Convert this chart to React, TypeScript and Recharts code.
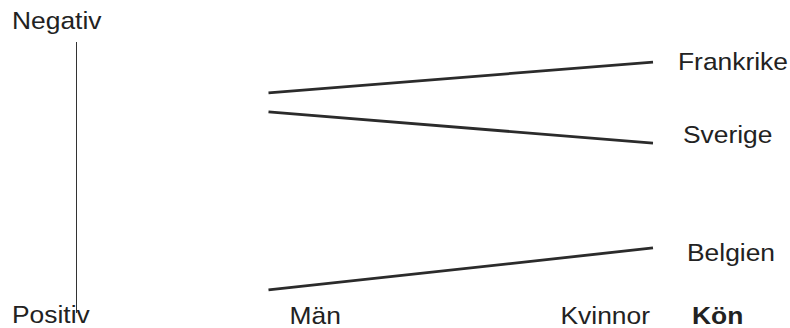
import { Label, Line, LineChart, XAxis, YAxis } from 'recharts'

const categories = ['Män', 'Kvinnor']
const frankrike = [8.12, 9.26]
const sverige = [7.42, 6.27]
const belgien = [0.85, 2.4]
const yTicks = [0, 10]
const yTickLabels = ['Positiv', 'Negativ']
const axisTitle = 'Kön'

const seriesList = [
  { name: 'Frankrike', values: frankrike, labelDx: 25, labelDy: 8 },
  { name: 'Sverige', values: sverige, labelDx: 30, labelDy: 0 },
  { name: 'Belgien', values: belgien, labelDx: 34, labelDy: 13 },
]

const data = categories.map((kon, i) => {
  const row: Record<string, string | number> = { kon }
  seriesList.forEach((s) => {
    row[s.name] = s.values[i]
  })
  return row
})

const FONT = '"Liberation Sans", Arial, sans-serif'
const INK = '#222'
const FONT_SIZE = 24
// the scanned original is a bit wider than plain Arial
const STRETCH = 1.1

function Txt({ x, y, anchor = 'start', bold = false, children }: any) {
  return (
    <text
      transform={`translate(${x},${y}) scale(${STRETCH},1)`}
      textAnchor={anchor}
      fontSize={FONT_SIZE}
      fontWeight={bold ? 'bold' : 'normal'}
      fill={INK}
      fontFamily={FONT}
    >
      {children}
    </text>
  )
}

function YTick(props: any) {
  const { y, payload } = props
  const idx = yTicks.indexOf(payload.value)
  const isTop = payload.value === yTicks[yTicks.length - 1]
  return (
    <Txt x={12} y={isTop ? y - 13 : y + 10}>
      {yTickLabels[idx]}
    </Txt>
  )
}

function XTick(props: any) {
  const { x, y, index, payload } = props
  const first = index === 0
  return (
    <Txt x={first ? x + 21 : x - 3} y={y + 11} anchor={first ? 'start' : 'end'}>
      {payload.value}
    </Txt>
  )
}

function endLabel(name: string, dx: number, dy: number) {
  return (props: any) => {
    const { x, y, index } = props
    if (index !== categories.length - 1) return <g key={`${name}-${index}`} />
    return (
      <g key={`${name}-${index}`}>
        <Txt x={x + dx} y={y + dy}>
          {name}
        </Txt>
      </g>
    )
  }
}

export default function App() {
  return (
    <div style={{ position: 'absolute', left: 0, top: 0, background: '#fff' }}>
      <LineChart
        width={790}
        height={328}
        data={data}
        margin={{ top: 42, right: 90, bottom: 0, left: 0 }}
      >
        <XAxis
          dataKey="kon"
          height={15}
          axisLine={false}
          tickLine={false}
          tickSize={0}
          tickMargin={0}
          padding={{ left: 192, right: 47 }}
          tick={<XTick />}
          interval={0}
        >
          <Label
            content={(p: any) => {
              const vb = p.viewBox
              return (
                <Txt x={vb.x + vb.width - 8} y={vb.y + 11} bold>
                  {axisTitle}
                </Txt>
              )
            }}
          />
        </XAxis>
        <YAxis
          width={76.5}
          domain={[0, 10]}
          ticks={yTicks}
          tickLine={false}
          axisLine={{ stroke: '#333', strokeWidth: 1 }}
          tick={<YTick />}
          interval={0}
        />
        {seriesList.map((s) => (
          <Line
            key={s.name}
            dataKey={s.name}
            type="linear"
            stroke="#2b2b2b"
            strokeWidth={2.8}
            dot={false}
            activeDot={false}
            isAnimationActive={false}
            label={endLabel(s.name, s.labelDx, s.labelDy)}
          />
        ))}
      </LineChart>
    </div>
  )
}
